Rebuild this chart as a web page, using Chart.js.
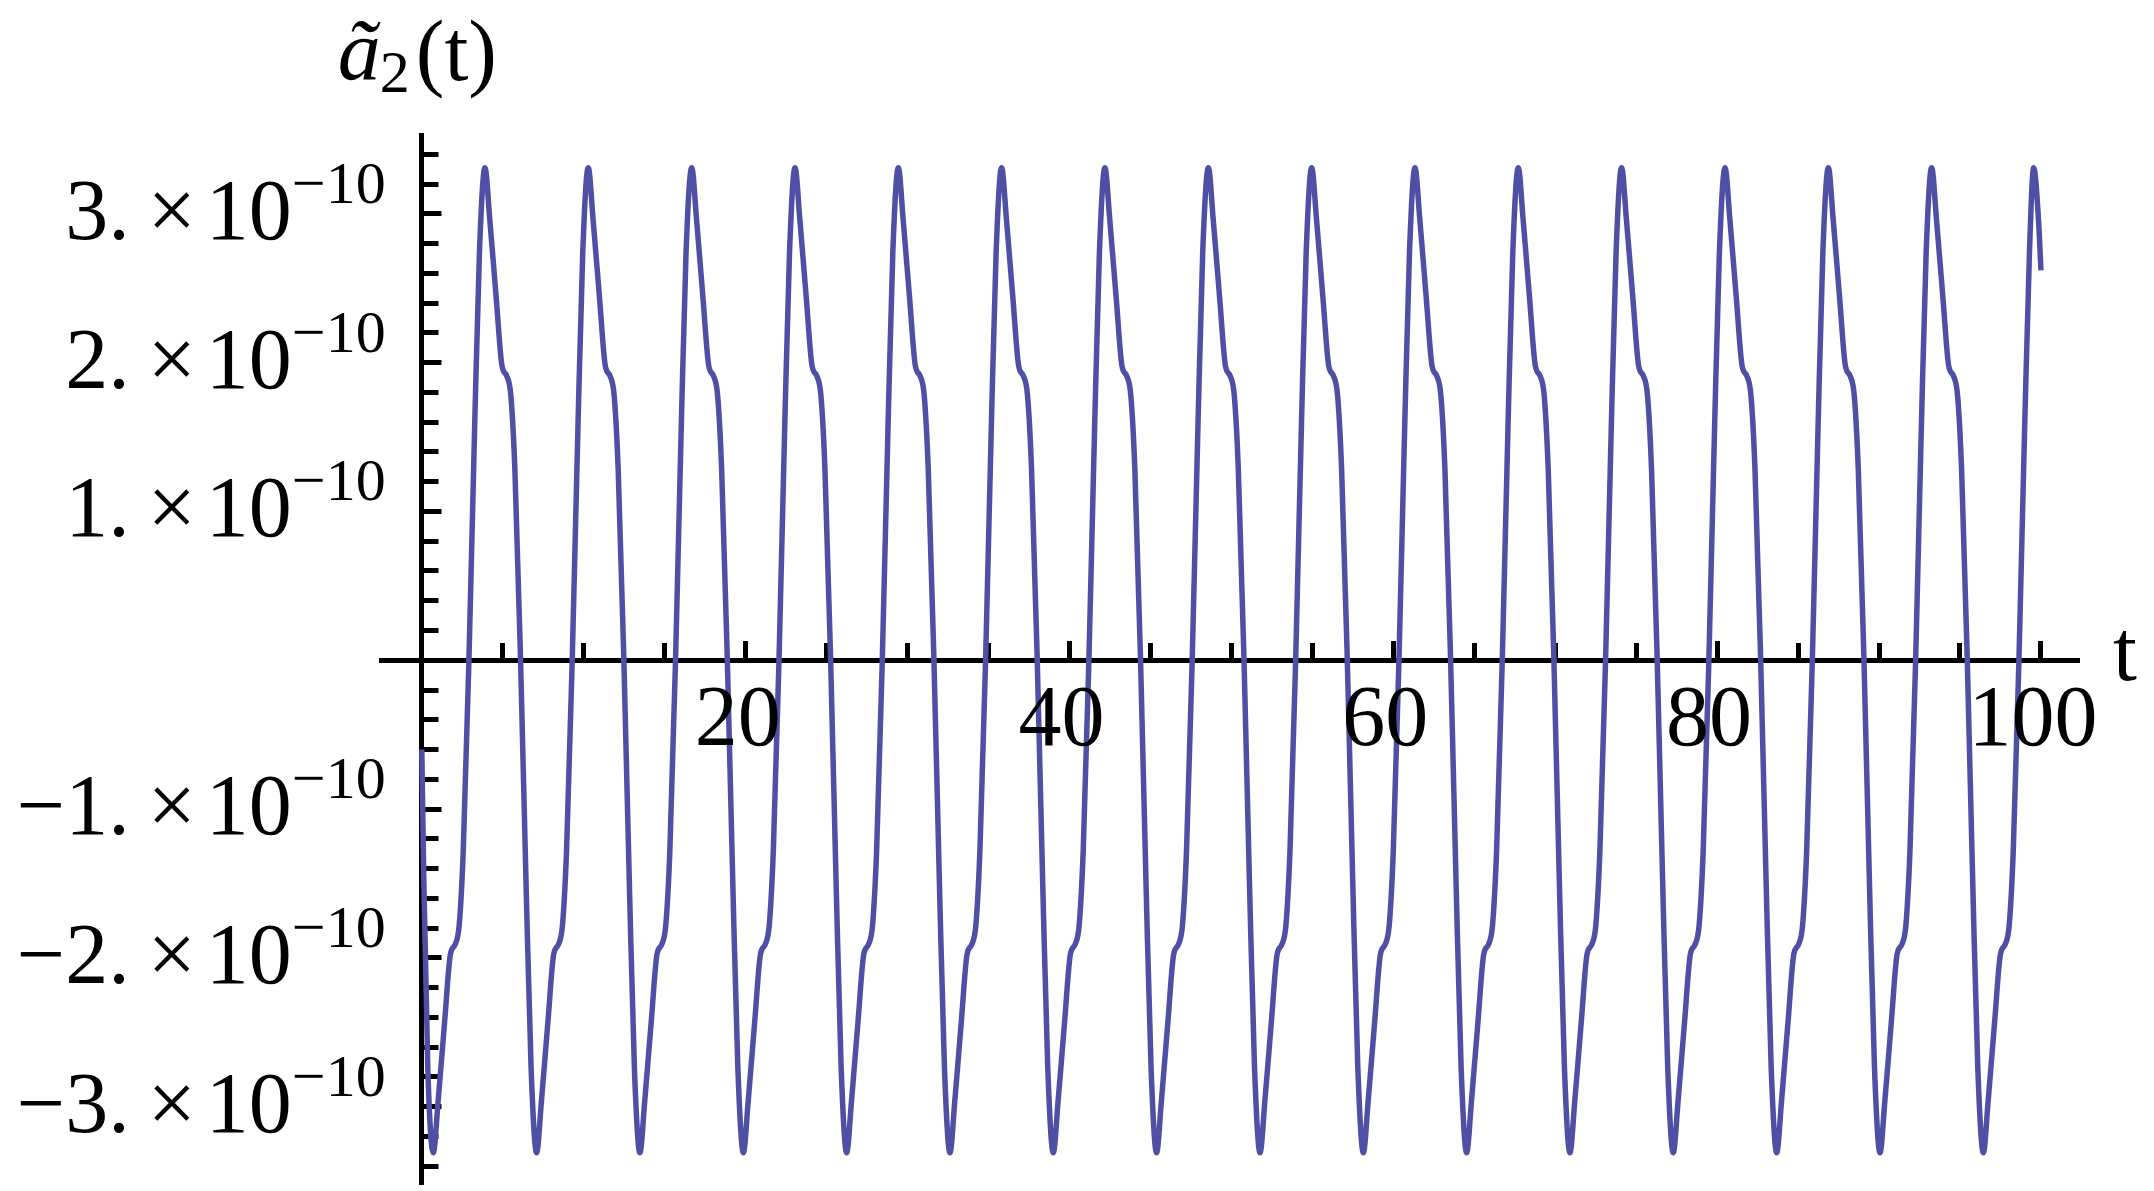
<!DOCTYPE html>
<html>
<head>
<meta charset="utf-8">
<script src="https://cdn.jsdelivr.net/npm/chart.js@4.4.1/dist/chart.umd.min.js"></script>
<style>
html,body{margin:0;padding:0;background:#ffffff;overflow:hidden;}
canvas{display:block;}
</style>
</head>
<body>
<canvas id="c" width="2154" height="1191" style="width:2154px;height:1191px"></canvas>
<script>
// ---- data (t, and ã2(t) in units of 1e-10) ----
const tValues = [
  0.00, 0.12, 0.37,
  0.71, 1.01, 1.41, 1.76, 2.06, 2.31, 2.56, 2.91, 3.26, 3.56,
  3.90, 4.20, 4.60, 4.95, 5.25, 5.50, 5.75, 6.10, 6.45, 6.75,
  7.09, 7.39, 7.79, 8.14, 8.44, 8.69, 8.94, 9.29, 9.64, 9.94,
  10.28, 10.58, 10.98, 11.33, 11.63, 11.88, 12.13, 12.48, 12.83, 13.13,
  13.47, 13.77, 14.17, 14.52, 14.82, 15.07, 15.32, 15.67, 16.02, 16.32,
  16.67, 16.97, 17.37, 17.72, 18.02, 18.27, 18.52, 18.87, 19.22, 19.52,
  19.86, 20.16, 20.56, 20.91, 21.21, 21.46, 21.71, 22.06, 22.41, 22.71,
  23.05, 23.35, 23.75, 24.10, 24.40, 24.65, 24.90, 25.25, 25.60, 25.90,
  26.24, 26.54, 26.94, 27.29, 27.59, 27.84, 28.09, 28.44, 28.79, 29.09,
  29.43, 29.73, 30.13, 30.48, 30.78, 31.03, 31.28, 31.63, 31.98, 32.28,
  32.62, 32.92, 33.32, 33.67, 33.97, 34.22, 34.47, 34.82, 35.17, 35.47,
  35.81, 36.11, 36.51, 36.86, 37.16, 37.41, 37.66, 38.01, 38.36, 38.66,
  39.00, 39.30, 39.70, 40.05, 40.35, 40.60, 40.85, 41.20, 41.55, 41.85,
  42.19, 42.49, 42.89, 43.24, 43.54, 43.79, 44.04, 44.39, 44.74, 45.04,
  45.38, 45.68, 46.08, 46.43, 46.73, 46.98, 47.23, 47.58, 47.93, 48.23,
  48.58, 48.88, 49.28, 49.63, 49.93, 50.18, 50.43, 50.78, 51.13, 51.43,
  51.77, 52.07, 52.47, 52.82, 53.12, 53.37, 53.62, 53.97, 54.32, 54.62,
  54.96, 55.26, 55.66, 56.01, 56.31, 56.56, 56.81, 57.16, 57.51, 57.81,
  58.15, 58.45, 58.85, 59.20, 59.50, 59.75, 60.00, 60.35, 60.70, 61.00,
  61.34, 61.64, 62.04, 62.39, 62.69, 62.94, 63.19, 63.54, 63.89, 64.19,
  64.53, 64.83, 65.23, 65.58, 65.88, 66.13, 66.38, 66.73, 67.08, 67.38,
  67.72, 68.02, 68.42, 68.77, 69.07, 69.32, 69.57, 69.92, 70.27, 70.57,
  70.91, 71.21, 71.61, 71.96, 72.26, 72.51, 72.76, 73.11, 73.46, 73.76,
  74.10, 74.40, 74.80, 75.15, 75.45, 75.70, 75.95, 76.30, 76.65, 76.95,
  77.29, 77.59, 77.99, 78.34, 78.64, 78.89, 79.14, 79.49, 79.84, 80.14,
  80.49, 80.79, 81.19, 81.54, 81.84, 82.09, 82.34, 82.69, 83.04, 83.34,
  83.68, 83.98, 84.38, 84.73, 85.03, 85.28, 85.53, 85.88, 86.23, 86.53,
  86.87, 87.17, 87.57, 87.92, 88.22, 88.47, 88.72, 89.07, 89.42, 89.72,
  90.06, 90.36, 90.76, 91.11, 91.41, 91.66, 91.91, 92.26, 92.61, 92.91,
  93.25, 93.55, 93.95, 94.30, 94.60, 94.85, 95.10, 95.45, 95.80, 96.10,
  96.44, 96.74, 97.14, 97.49, 97.79, 98.04, 98.29, 98.64, 98.99, 99.29,
  99.55, 99.85, 100.00
];

const a2Values = [
  -0.60, -1.45, -2.74,
  -3.31, -2.96, -2.43, -1.98, -1.91, -1.78, -1.28, 0.00, 1.55, 2.74,
  3.31, 2.96, 2.43, 1.98, 1.91, 1.78, 1.28, 0.00, -1.55, -2.74,
  -3.31, -2.96, -2.43, -1.98, -1.91, -1.78, -1.28, 0.00, 1.55, 2.74,
  3.31, 2.96, 2.43, 1.98, 1.91, 1.78, 1.28, 0.00, -1.55, -2.74,
  -3.31, -2.96, -2.43, -1.98, -1.91, -1.78, -1.28, 0.00, 1.55, 2.74,
  3.31, 2.96, 2.43, 1.98, 1.91, 1.78, 1.28, 0.00, -1.55, -2.74,
  -3.31, -2.96, -2.43, -1.98, -1.91, -1.78, -1.28, 0.00, 1.55, 2.74,
  3.31, 2.96, 2.43, 1.98, 1.91, 1.78, 1.28, 0.00, -1.55, -2.74,
  -3.31, -2.96, -2.43, -1.98, -1.91, -1.78, -1.28, 0.00, 1.55, 2.74,
  3.31, 2.96, 2.43, 1.98, 1.91, 1.78, 1.28, 0.00, -1.55, -2.74,
  -3.31, -2.96, -2.43, -1.98, -1.91, -1.78, -1.28, 0.00, 1.55, 2.74,
  3.31, 2.96, 2.43, 1.98, 1.91, 1.78, 1.28, 0.00, -1.55, -2.74,
  -3.31, -2.96, -2.43, -1.98, -1.91, -1.78, -1.28, 0.00, 1.55, 2.74,
  3.31, 2.96, 2.43, 1.98, 1.91, 1.78, 1.28, 0.00, -1.55, -2.74,
  -3.31, -2.96, -2.43, -1.98, -1.91, -1.78, -1.28, 0.00, 1.55, 2.74,
  3.31, 2.96, 2.43, 1.98, 1.91, 1.78, 1.28, 0.00, -1.55, -2.74,
  -3.31, -2.96, -2.43, -1.98, -1.91, -1.78, -1.28, 0.00, 1.55, 2.74,
  3.31, 2.96, 2.43, 1.98, 1.91, 1.78, 1.28, 0.00, -1.55, -2.74,
  -3.31, -2.96, -2.43, -1.98, -1.91, -1.78, -1.28, 0.00, 1.55, 2.74,
  3.31, 2.96, 2.43, 1.98, 1.91, 1.78, 1.28, 0.00, -1.55, -2.74,
  -3.31, -2.96, -2.43, -1.98, -1.91, -1.78, -1.28, 0.00, 1.55, 2.74,
  3.31, 2.96, 2.43, 1.98, 1.91, 1.78, 1.28, 0.00, -1.55, -2.74,
  -3.31, -2.96, -2.43, -1.98, -1.91, -1.78, -1.28, 0.00, 1.55, 2.74,
  3.31, 2.96, 2.43, 1.98, 1.91, 1.78, 1.28, 0.00, -1.55, -2.74,
  -3.31, -2.96, -2.43, -1.98, -1.91, -1.78, -1.28, 0.00, 1.55, 2.74,
  3.31, 2.96, 2.43, 1.98, 1.91, 1.78, 1.28, 0.00, -1.55, -2.74,
  -3.31, -2.96, -2.43, -1.98, -1.91, -1.78, -1.28, 0.00, 1.55, 2.74,
  3.31, 2.96, 2.43, 1.98, 1.91, 1.78, 1.28, 0.00, -1.55, -2.74,
  -3.31, -2.96, -2.43, -1.98, -1.91, -1.78, -1.28, 0.00, 1.55, 2.74,
  3.31, 2.96, 2.43, 1.98, 1.91, 1.78, 1.28, 0.00, -1.55, -2.74,
  -3.31, -2.96, -2.43, -1.98, -1.91, -1.78, -1.28, 0.00, 1.55, 2.74,
  3.31, 2.96, 2.62
];

// ---- ticks and labels ----
const xMajorTicks = [20, 40, 60, 80, 100];
const xTickLabels = ['20', '40', '60', '80', '100'];
const xMinorTicks = [5, 10, 15, 25, 30, 35, 45, 50, 55, 65, 70, 75, 85, 90, 95];
const yMajorTicks = [-3, -2, -1, 1, 2, 3];
const yTickMantissas = ['\u22123.', '\u22122.', '\u22121.', '1.', '2.', '3.'];
const yTickBase = '10';
const yTickExponent = '\u221210';
const yMinorTicks = [-3.4, -3.2, -2.8, -2.6, -2.4, -2.2, -1.8, -1.6, -1.4, -1.2,
  -0.8, -0.6, -0.4, -0.2, 0.2, 0.4, 0.6, 0.8, 1.2, 1.4, 1.6, 1.8,
  2.2, 2.4, 2.6, 2.8, 3.2, 3.4];
const xAxisLabel = 't';
const yAxisLabelMain = '\u00e3';
const yAxisLabelSub = '2';
const yAxisLabelArg = '(t)';

const X_MIN = -2.52, X_MAX = 102.35;
const Y_MIN = -3.52, Y_MAX = 3.53;

const FONT = '"Liberation Serif", "Times New Roman", "DejaVu Serif", serif';

function noSpace(s) { if (s.isHorizontal()) { s.height = 0; } else { s.width = 0; } }
function tickSetter(arr) { return function (s) { s.ticks = arr.map(v => ({ value: v })); }; }

function axis(id, min, max, pos, ticksArr, tl, showBorder) {
  return {
    type: 'linear', axis: id, min: min, max: max, position: pos,
    border: { display: showBorder, color: '#000000', width: 5 },
    grid: { drawOnChartArea: false, drawTicks: true, tickLength: tl, tickWidth: 5, tickColor: '#000000' },
    ticks: { display: false },
    afterBuildTicks: tickSetter(ticksArr),
    afterFit: noSpace
  };
}

const labelPlugin = {
  id: 'mmaLabels',
  afterDraw(chart) {
    const ctx = chart.ctx;
    const xs = chart.scales.x, ys = chart.scales.y;
    const ax = xs.getPixelForValue(0);
    const ay = ys.getPixelForValue(0);
    ctx.save();
    ctx.fillStyle = '#000000';
    ctx.textBaseline = 'alphabetic';
    // y tick labels
    yMajorTicks.forEach((v, i) => {
      const py = ys.getPixelForValue(v) + 25;
      ctx.font = '86px ' + FONT;
      ctx.textAlign = 'right';
      ctx.fillText(yTickMantissas[i], ax - 292, py);
      ctx.textAlign = 'center';
      ctx.fillText('\u00d7', ax - 250, py);
      ctx.textAlign = 'left';
      ctx.fillText(yTickBase, ax - 216, py);
      ctx.font = '60px ' + FONT;
      ctx.fillText(yTickExponent, ax - 130, py - 36);
    });
    // x tick labels
    ctx.font = '86px ' + FONT;
    ctx.textAlign = 'center';
    xMajorTicks.forEach((v, i) => {
      ctx.fillText(xTickLabels[i], xs.getPixelForValue(v) - 8, ay + 85);
    });
    // axis labels
    ctx.textAlign = 'left';
    ctx.fillText(xAxisLabel, chart.chartArea.right + 34, ay + 20);
    ctx.font = 'italic 86px ' + FONT;
    ctx.fillText(yAxisLabelMain, ax - 84, 80);
    ctx.font = '60px ' + FONT;
    ctx.fillText(yAxisLabelSub, ax - 42, 92);
    ctx.font = '86px ' + FONT;
    ctx.fillText(yAxisLabelArg, ax - 6, 80);
    ctx.restore();
  }
};

const points = tValues.map((t, i) => ({ x: t, y: a2Values[i] }));

new Chart(document.getElementById('c'), {
  type: 'line',
  data: {
    datasets: [{
      data: points,
      borderColor: '#4f4fa6',
      borderWidth: 5.5,
      pointRadius: 0,
      fill: false,
      tension: 0,
      cubicInterpolationMode: 'monotone',
      xAxisID: 'x',
      yAxisID: 'y'
    }]
  },
  options: {
    responsive: false,
    devicePixelRatio: 1,
    animation: false,
    events: [],
    layout: { padding: { left: 381, right: 75, top: 135, bottom: 7 } },
    plugins: { legend: { display: false }, tooltip: { enabled: false }, title: { display: false } },
    scales: {
      x: axis('x', X_MIN, X_MAX, { y: 0 }, xMajorTicks, -22, true),
      x2: axis('x', X_MIN, X_MAX, { y: 0 }, xMinorTicks, -17, false),
      y: axis('y', Y_MIN, Y_MAX, { x: 0 }, yMajorTicks, -22.5, true),
      y2: axis('y', Y_MIN, Y_MAX, { x: 0 }, yMinorTicks, -16.5, false)
    }
  },
  plugins: [labelPlugin]
});
</script>
</body>
</html>
